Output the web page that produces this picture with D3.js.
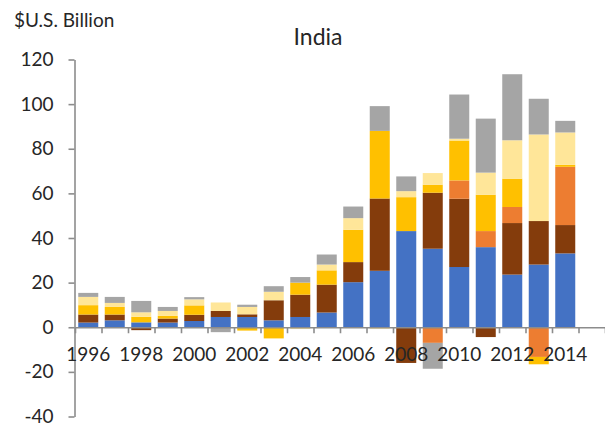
<!DOCTYPE html>
<html>
<head>
<meta charset="utf-8">
<script src="https://cdn.jsdelivr.net/npm/d3@7"></script>
<style>
  html, body { margin: 0; padding: 0; background: #fff; }
  svg { display: block; }
  text { font-family: Lato, "Open Sans", sans-serif; fill: #262626; }
</style>
</head>
<body>
<svg id="chart" width="605" height="429"></svg>
<script>
// ---- data ----
const years = [1996,1997,1998,1999,2000,2001,2002,2003,2004,2005,2006,2007,2008,2009,2010,2011,2012,2013,2014,2015];
const xTickLabels = [1996,1998,2000,2002,2004,2006,2008,2010,2012,2014];
const yTicks = [-40,-20,0,20,40,60,80,100,120];

const seriesNames = ["Series A","Series B","Series C","Series D","Series E","Series F"];
const seriesA = [2.1, 3.1, 2.2, 2.1, 2.8, 4.6, 4.6, 3.1, 4.6, 6.6, 20.2, 25.3, 43.1, 35.2, 27.0, 35.9, 23.6, 28.1, 33.1, 0];
const seriesB = [3.6, 2.6, -1.3, 1.8, 2.8, 2.7, 1.2, 9.0, 10.0, 12.5, 9.0, 32.4, -16.0, 25.1, 30.6, -4.4, 23.1, 19.5, 12.7, 0];
const seriesC = [0, 0, 0, 0, 0, 0, 0, 0, 0, 0, 0, 0, 0, -7.0, 8.2, 7.2, 7.2, -13.3, 26.1, 0];
const seriesD = [4.2, 3.4, 2.5, 1.2, 4.2, 0, -1.5, -5.0, 5.4, 6.4, 14.5, 30.3, 15.2, 3.6, 17.9, 16.3, 12.7, -3.3, 0.9, 0];
const seriesE = [3.7, 1.8, 2.0, 2.2, 2.7, 3.8, 3.3, 3.8, -0.8, 2.6, 5.2, -0.7, 2.7, 5.2, 0.8, 9.9, 17.2, 38.8, 14.5, 0];
const seriesF = [1.8, 2.7, 5.1, 1.8, 1.0, -2.2, 1.0, 2.5, 2.5, 4.5, 5.2, 11.1, 6.6, -11.6, 19.8, 24.2, 29.6, 16.0, 5.2, 0];
const colors = ["#4472C4", "#843C0C", "#ED7D31", "#FFC000", "#FFE699", "#A5A5A5"];

// ---- build table ----
const allSeries = [seriesA, seriesB, seriesC, seriesD, seriesE, seriesF];
const table = years.map((yr, i) => {
  const row = { year: yr };
  seriesNames.forEach((n, k) => row[n] = allSeries[k][i]);
  return row;
});

const svg = d3.select("#chart");
const mLeft = 75, mRight = 605, mTop = 59.5, mBottom = 416.5;

const x = d3.scaleBand().domain(years).range([mLeft, mRight]).paddingInner(0.245).paddingOuter(0.1225);
const xb = d3.scaleLinear().domain([0, years.length]).range([mLeft, mRight]);
const y = d3.scaleLinear().domain([-40, 120]).range([mBottom, mTop]);

const stack = d3.stack().keys(seriesNames).offset(d3.stackOffsetDiverging);
const stacked = stack(table);

// bars
svg.append("g").selectAll("g")
  .data(stacked).join("g")
  .attr("fill", (d, i) => colors[i])
  .selectAll("rect")
  .data(d => d).join("rect")
  .attr("x", d => x(d.data.year))
  .attr("width", x.bandwidth())
  .attr("y", d => y(Math.max(d[0], d[1])))
  .attr("height", d => Math.abs(y(d[0]) - y(d[1])));

const axisColor = "#8C8C8C";

// y axis
const yAxis = svg.append("g")
  .attr("transform", `translate(${mLeft - 0.5},0)`)
  .call(d3.axisLeft(y).tickValues(yTicks).tickFormat(d => String(d)).tickSize(6).tickPadding(15).tickSizeOuter(0));
yAxis.select(".domain").attr("stroke", axisColor).attr("stroke-width", 1.6);
yAxis.selectAll(".tick line").attr("stroke", axisColor).attr("stroke-width", 1.6);
yAxis.selectAll(".tick text").style("font-family", "Lato, sans-serif").style("font-size", "19px").attr("fill", "#262626");

// x axis: tick marks at category boundaries
const xTickAxis = svg.append("g")
  .attr("transform", `translate(0,${y(0)})`)
  .call(d3.axisBottom(xb).tickValues(d3.range(0, years.length + 1)).tickSize(6).tickFormat("").tickSizeOuter(0));
xTickAxis.select(".domain").attr("stroke", axisColor).attr("stroke-width", 1.6);
xTickAxis.selectAll(".tick line").attr("stroke", axisColor).attr("stroke-width", 1.6);

// x axis labels
const xLabelAxis = svg.append("g")
  .attr("transform", `translate(0,${y(0)})`)
  .call(d3.axisBottom(x).tickValues(xTickLabels).tickSize(0).tickPadding(20));
xLabelAxis.select(".domain").remove();
xLabelAxis.selectAll(".tick text").style("font-family", "Lato, sans-serif").style("font-size", "19px").attr("fill", "#262626");

// titles
svg.append("text").attr("x", 318).attr("y", 45).attr("text-anchor", "middle")
  .style("font-size", "23px").text("India");
svg.append("text").attr("x", 14).attr("y", 27)
  .style("font-size", "19px").text("$U.S. Billion");
</script>
</body>
</html>
